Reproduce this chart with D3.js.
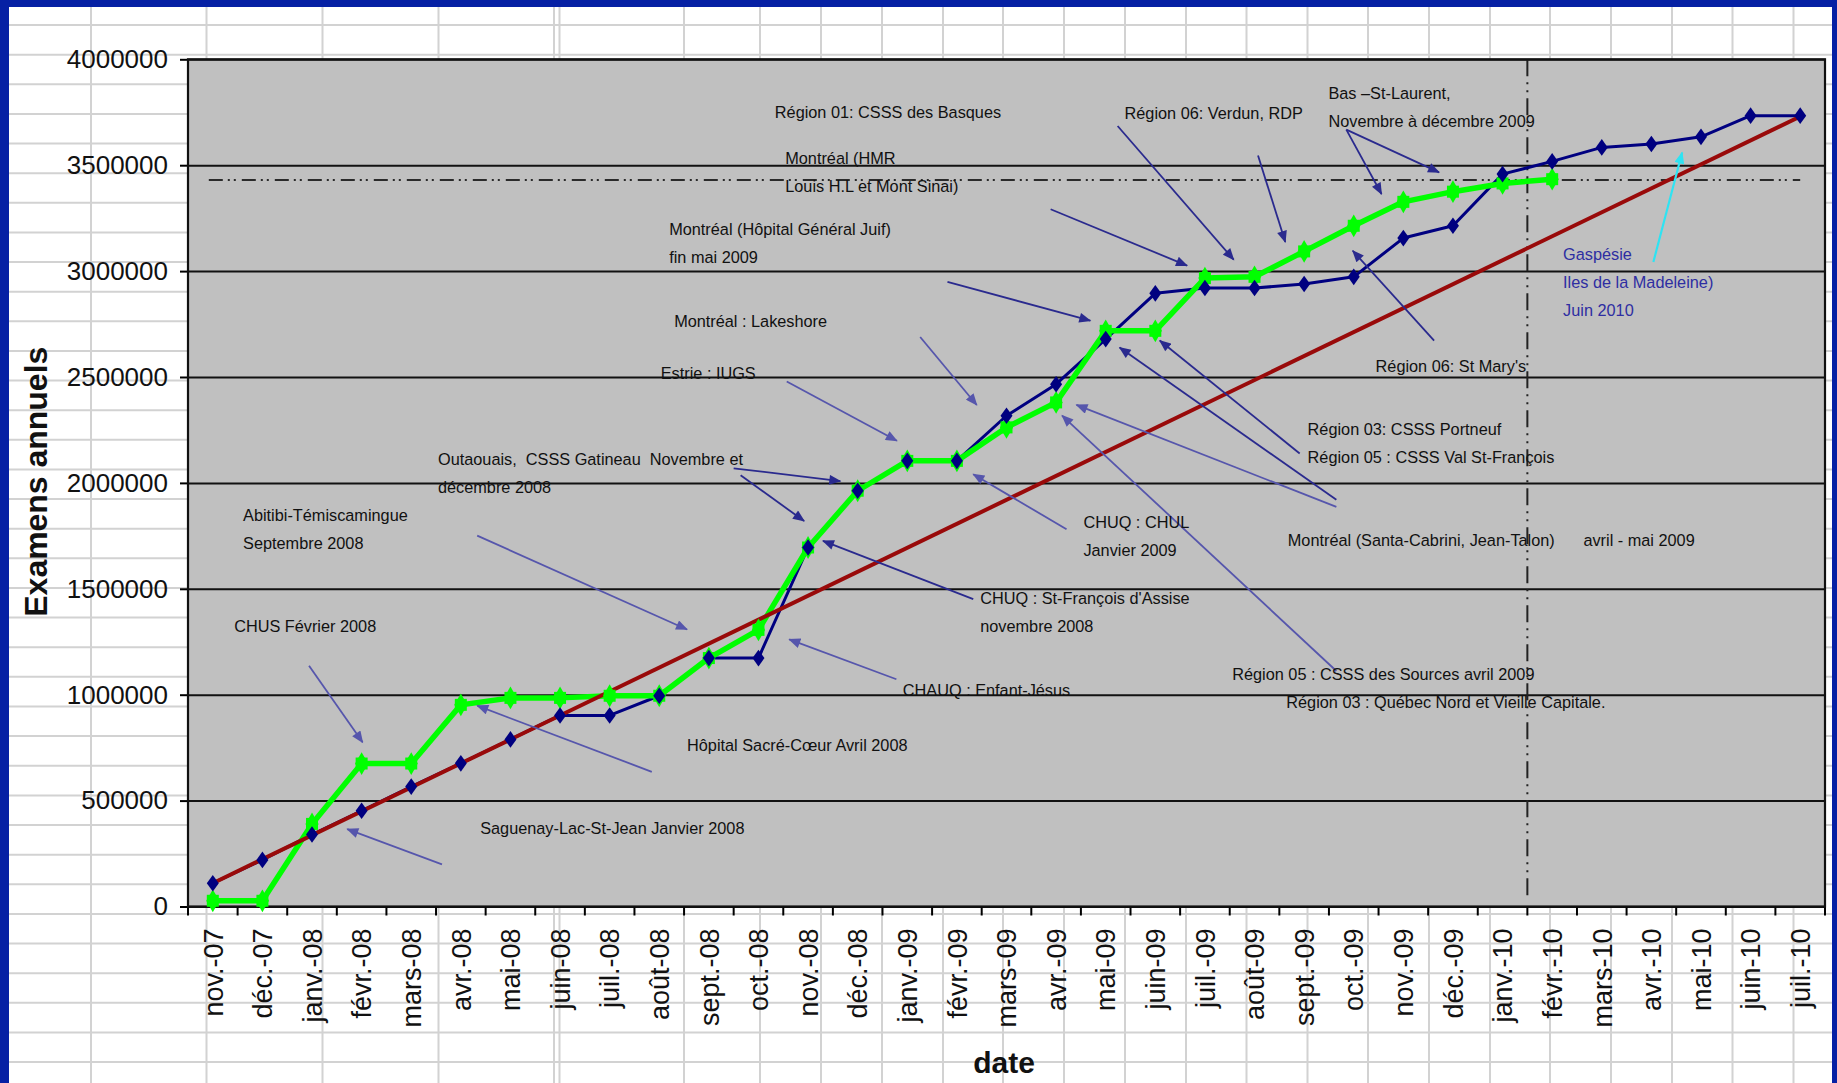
<!DOCTYPE html>
<html>
<head>
<meta charset="utf-8">
<script src="https://cdn.jsdelivr.net/npm/d3@7"></script>
<style>
  html, body { margin: 0; padding: 0; background: #ffffff; }
  svg { display: block; font-family: "Liberation Sans", Arial, sans-serif; }
</style>
</head>
<body>
<svg id="chart" width="1837" height="1083"></svg>
<script>
// ---- data -------------------------------------------------------------
const months = [
  "nov.-07", "déc.-07", "janv.-08", "févr.-08", "mars-08", "avr.-08", "mai-08",
  "juin-08", "juil.-08", "août-08", "sept.-08", "oct.-08", "nov.-08", "déc.-08",
  "janv.-09", "févr.-09", "mars-09", "avr.-09", "mai-09", "juin-09", "juil.-09",
  "août-09", "sept.-09", "oct.-09", "nov.-09", "déc.-09", "janv.-10", "févr.-10",
  "mars-10", "avr.-10", "mai-10", "juin-10", "juil.-10"
];

const yTicks = [0, 500000, 1000000, 1500000, 2000000, 2500000, 3000000, 3500000, 4000000];

// cumulative annual exams, planned deployment (navy)
const plannedExams = [
  110000, 220000, 340000, 452000, 566000, 676000, 789000, 902000, 902000,
  995000, 1173000, 1173000, 1695000, 1963000, 2104000, 2104000, 2317000,
  2466000, 2679000, 2895000, 2920000, 2920000, 2939000, 2973000, 3156000,
  3214000, 3458000, 3518000, 3584000, 3600000, 3634000, 3734000, 3734000
];

// cumulative annual exams, actual deployment (green) — nov.-07 to févr.-10
const actualExams = [
  27000, 27000, 390000, 675000, 675000, 952000, 985000, 985000, 995000,
  995000, 1173000, 1306000, 1695000, 1963000, 2104000, 2104000, 2262000,
  2380000, 2718000, 2718000, 2967000, 2973000, 3093000, 3214000, 3327000,
  3375000, 3414000, 3434000
];

// straight target line (dark red)
const targetMonths = ["nov.-07", "juil.-10"];
const targetExams = [110000, 3730000];

// horizontal reference level and the month where the vertical marker sits
const referenceLevel = 3430000;
const referenceMonths = ["nov.-07", "juil.-10"];
const markerBeforeMonth = "févr.-10";
const markerSpan = [50000, 4000000];

// annotations: anchor = [month index, exams], lines of text
const notes = [
  { at: [11.33, 3750000], lines: ["Région 01: CSSS des Basques"] },
  { at: [18.38, 3745000], lines: ["Région 06: Verdun, RDP"] },
  { at: [22.49, 3840000], lines: ["Bas –St-Laurent,", "Novembre à décembre 2009"] },
  { at: [11.54, 3535000], lines: ["Montréal (HMR", "Louis H.L et Mont Sinai)"] },
  { at: [9.20, 3198000], lines: ["Montréal (Hôpital Général Juif)", "fin mai 2009"] },
  { at: [9.30, 2766000], lines: ["Montréal : Lakeshore"] },
  { at: [9.03, 2517000], lines: ["Estrie : IUGS"] },
  { at: [4.54, 2113000], lines: ["Outaouais,  CSSS Gatineau  Novembre et", "décembre 2008"] },
  { at: [0.61, 1848000], lines: ["Abitibi-Témiscamingue", "Septembre 2008"] },
  { at: [0.43, 1322000], lines: ["CHUS Février 2008"] },
  { at: [9.56, 763000], lines: ["Hôpital Sacré-Cœur Avril 2008"] },
  { at: [5.39, 371000], lines: ["Saguenay-Lac-St-Jean Janvier 2008"] },
  { at: [13.91, 1023000], lines: ["CHAUQ : Enfant-Jésus"] },
  { at: [15.47, 1455000], lines: ["CHUQ : St-François d'Assise", "novembre 2008"] },
  { at: [17.55, 1815000], lines: ["CHUQ : CHUL", "Janvier 2009"] },
  { at: [22.07, 2252000], lines: ["Région 03: CSSS Portneuf", "Région 05 : CSSS Val St-François"] },
  { at: [21.67, 1732000], lines: ["Montréal (Santa-Cabrini, Jean-Talon)"] },
  { at: [27.63, 1732000], lines: ["avril - mai 2009"] },
  { at: [20.55, 1095000], lines: ["Région 05 : CSSS des Sources avril 2009"] },
  { at: [21.64, 963000], lines: ["Région 03 : Québec Nord et Vieille Capitale."] },
  { at: [23.44, 2550000], lines: ["Région 06: St Mary's"] },
  { at: [27.22, 3082000], lines: ["Gaspésie", "Iles de la Madeleine)", "Juin 2010"], tone: "blue" }
];

// pointer arrows: from -> to, in [month index, exams]
const pointers = [
  { from: [18.24, 3685000], to: [20.58, 3054000], tone: "dark" },
  { from: [21.07, 3546000], to: [21.62, 3137000], tone: "dark" },
  { from: [22.85, 3668000], to: [24.72, 3466000], tone: "dark" },
  { from: [22.85, 3668000], to: [23.56, 3364000], tone: "dark" },
  { from: [16.89, 3292000], to: [19.64, 3026000], tone: "dark" },
  { from: [14.81, 2949000], to: [17.69, 2766000], tone: "dark" },
  { from: [14.26, 2689000], to: [15.40, 2368000], tone: "light" },
  { from: [11.57, 2479000], to: [13.79, 2199000], tone: "light" },
  { from: [10.50, 2069000], to: [12.65, 2008000], tone: "dark" },
  { from: [10.64, 2036000], to: [11.92, 1820000], tone: "dark" },
  { from: [5.33, 1751000], to: [9.56, 1308000], tone: "light" },
  { from: [1.94, 1137000], to: [3.02, 775000], tone: "light" },
  { from: [8.85, 636000], to: [5.33, 948000], tone: "light" },
  { from: [4.62, 199000], to: [2.71, 365000], tone: "light" },
  { from: [13.78, 1073000], to: [11.62, 1261000], tone: "light" },
  { from: [15.33, 1451000], to: [12.30, 1726000], tone: "dark" },
  { from: [17.21, 1781000], to: [15.33, 2041000], tone: "light" },
  { from: [21.91, 2139000], to: [19.09, 2672000], tone: "dark" },
  { from: [22.65, 1920000], to: [18.28, 2639000], tone: "dark" },
  { from: [22.65, 1887000], to: [17.41, 2368000], tone: "light" },
  { from: [22.65, 1112000], to: [17.12, 2318000], tone: "light" },
  { from: [24.62, 2672000], to: [22.98, 3096000], tone: "dark" },
  { from: [29.04, 3043000], to: [29.62, 3560000], tone: "cyan" }
];

// ---- layout -------------------------------------------------------------
const W = 1837, H = 1083;
const plot = { left: 188, right: 1825, top: 59.3, bottom: 906.5 };

// spreadsheet cell grid behind the chart
const sheetColumns = [91, 206.5, 322.5, 438.5, 554, 559.5, 684, 760, 821, 882, 943,
  1003, 1064, 1125, 1186, 1246.5, 1307.5, 1368, 1429, 1490, 1550, 1611, 1672, 1732.5, 1793.5];
const sheetRowTop = 25, sheetRowStep = 29.63;

const toneColor = { dark: "#2a2a8e", light: "#5656ac", cyan: "#2fe3f2", blue: "#2e2ea2" };

const svg = d3.select("#chart");

// background sheet
svg.append("rect").attr("width", W).attr("height", H).attr("fill", "#ffffff");
const sheet = svg.append("g").attr("stroke", "#d2d2d2").attr("stroke-width", 2);
for (let yy = sheetRowTop; yy < H; yy += sheetRowStep) {
  sheet.append("line").attr("x1", 0).attr("x2", W).attr("y1", yy).attr("y2", yy);
}
sheetColumns.forEach(cx => {
  sheet.append("line").attr("x1", cx).attr("x2", cx).attr("y1", 0).attr("y2", H);
});

// slide frame
svg.append("rect").attr("x", 0).attr("y", 0).attr("width", W).attr("height", 7).attr("fill", "#0620a4");
svg.append("rect").attr("x", 0).attr("y", 0).attr("width", 9).attr("height", H).attr("fill", "#0620a4");
svg.append("rect").attr("x", 1832).attr("y", 0).attr("width", 5).attr("height", H).attr("fill", "#0620a4");

// scales
const x = d3.scaleBand().domain(months).range([plot.left, plot.right]).padding(0);
const bw = x.bandwidth();
const cx = m => x(m) + bw / 2;
const fx = i => plot.left + (i + 0.5) * bw;   // fractional month index
const y = d3.scaleLinear().domain([0, 4000000]).range([plot.bottom, plot.top]);

// plot area
svg.append("rect")
  .attr("x", plot.left).attr("y", plot.top)
  .attr("width", plot.right - plot.left).attr("height", plot.bottom - plot.top)
  .attr("fill", "#c0c0c0");

// horizontal gridlines
const grid = svg.append("g")
  .attr("transform", `translate(${plot.left},0)`)
  .call(d3.axisLeft(y).tickValues(yTicks).tickSize(-(plot.right - plot.left)).tickFormat(""));
grid.select(".domain").remove();
grid.selectAll("line").attr("stroke", "#111").attr("stroke-width", 2);

// reference level (dash-dot-dot)
svg.append("line")
  .attr("x1", cx(referenceMonths[0]) - 4).attr("x2", cx(referenceMonths[1]))
  .attr("y1", y(referenceLevel)).attr("y2", y(referenceLevel))
  .attr("stroke", "#2a2a2a").attr("stroke-width", 2)
  .attr("stroke-dasharray", "14,5,2,4,2,6");

// vertical marker between janv.-10 and févr.-10
svg.append("line")
  .attr("x1", x(markerBeforeMonth)).attr("x2", x(markerBeforeMonth))
  .attr("y1", y(markerSpan[1])).attr("y2", y(markerSpan[0]))
  .attr("stroke", "#222").attr("stroke-width", 2)
  .attr("stroke-dasharray", "17,6,2,6,2,6");

// y axis
const yAxis = svg.append("g")
  .attr("transform", `translate(${plot.left},0)`)
  .call(d3.axisLeft(y).tickValues(yTicks).tickSize(8).tickPadding(12).tickFormat(d3.format("d")));
yAxis.select(".domain").remove();
yAxis.selectAll("line").attr("stroke", "#000").attr("stroke-width", 2);
yAxis.selectAll("text").attr("font-size", 26).attr("fill", "#111")
  .attr("font-family", "'Liberation Sans', Arial, sans-serif");

// x axis: ticks on band boundaries, labels rotated
const xTickPos = months.map(m => x(m)).concat([plot.right]);
svg.append("g").selectAll("line").data(xTickPos).join("line")
  .attr("x1", d => d).attr("x2", d => d)
  .attr("y1", plot.bottom).attr("y2", plot.bottom + 9)
  .attr("stroke", "#000").attr("stroke-width", 2);
const xAxis = svg.append("g")
  .attr("transform", `translate(0,${plot.bottom})`)
  .call(d3.axisBottom(x).tickSize(0).tickPadding(0));
xAxis.select(".domain").remove();
xAxis.selectAll("text")
  .attr("font-size", 27).attr("fill", "#111")
  .attr("font-family", "'Liberation Sans', Arial, sans-serif")
  .attr("text-anchor", "end")
  .attr("transform", "translate(0,22) rotate(-90)")
  .attr("x", 0).attr("y", 0).attr("dy", "0.36em");

// plot border
svg.append("rect")
  .attr("x", plot.left).attr("y", plot.top)
  .attr("width", plot.right - plot.left).attr("height", plot.bottom - plot.top)
  .attr("fill", "none").attr("stroke", "#111").attr("stroke-width", 2.2);

// axis titles
svg.append("text")
  .attr("transform", `translate(46.5,${(346.7 + 616.7) / 2}) rotate(-90)`)
  .attr("text-anchor", "middle")
  .attr("font-size", 31).attr("font-weight", "bold").attr("fill", "#111")
  .attr("textLength", 270).attr("lengthAdjust", "spacingAndGlyphs")
  .text("Examens annuels");
svg.append("text")
  .attr("x", 1004).attr("y", 1073)
  .attr("text-anchor", "middle")
  .attr("font-size", 30).attr("font-weight", "bold").attr("fill", "#111")
  .text("date");

// arrowhead markers
const defs = svg.append("defs");
Object.entries(toneColor).forEach(([k, c]) => {
  defs.append("marker")
    .attr("id", "head-" + k)
    .attr("markerUnits", "userSpaceOnUse")
    .attr("viewBox", "0 0 12 10")
    .attr("refX", 11).attr("refY", 5)
    .attr("markerWidth", 13).attr("markerHeight", 10)
    .attr("orient", "auto")
    .append("path").attr("d", "M0,0 L12,5 L0,10 Z").attr("fill", c);
});

// series lines
const lineGen = d3.line().x(d => d[0]).y(d => d[1]);

svg.append("path")
  .datum(plannedExams.map((v, i) => [cx(months[i]), y(v)]))
  .attr("d", lineGen).attr("fill", "none")
  .attr("stroke", "#000080").attr("stroke-width", 3).attr("stroke-linejoin", "round");

svg.append("path")
  .datum(actualExams.map((v, i) => [cx(months[i]), y(v)]))
  .attr("d", lineGen).attr("fill", "none")
  .attr("stroke", "#00ff00").attr("stroke-width", 5.5).attr("stroke-linejoin", "round");

svg.append("path")
  .datum(targetExams.map((v, i) => [cx(targetMonths[i]), y(v)]))
  .attr("d", lineGen).attr("fill", "none")
  .attr("stroke", "#990a0a").attr("stroke-width", 4);

// markers
const greenG = svg.append("g").attr("fill", "#00ff00");
actualExams.forEach((v, i) => {
  const px = cx(months[i]), py = y(v);
  greenG.append("rect").attr("x", px - 6).attr("y", py - 6).attr("width", 12).attr("height", 12);
  greenG.append("path").attr("d", d3.symbol(d3.symbolDiamond, 150)()).attr("transform", `translate(${px},${py})`);
});
const navyG = svg.append("g").attr("fill", "#000080");
plannedExams.forEach((v, i) => {
  navyG.append("path")
    .attr("d", d3.symbol(d3.symbolDiamond, 80)())
    .attr("transform", `translate(${cx(months[i])},${y(v)}) scale(1.25,1)`);
});

// annotation pointers
svg.append("g").selectAll("line").data(pointers).join("line")
  .attr("x1", d => fx(d.from[0])).attr("y1", d => y(d.from[1]))
  .attr("x2", d => fx(d.to[0])).attr("y2", d => y(d.to[1]))
  .attr("stroke", d => toneColor[d.tone])
  .attr("stroke-width", d => d.tone === "cyan" ? 2.2 : 1.8)
  .attr("marker-end", d => `url(#head-${d.tone})`);

// annotation texts
const noteG = svg.append("g").attr("font-size", 16.3);
notes.forEach(n => {
  const t = noteG.append("text")
    .attr("x", fx(n.at[0])).attr("y", y(n.at[1]))
    .attr("fill", n.tone ? toneColor[n.tone] : "#111")
    .attr("xml:space", "preserve");
  n.lines.forEach((line, k) => {
    t.append("tspan")
      .attr("x", fx(n.at[0]))
      .attr("dy", k === 0 ? "0.36em" : 28)
      .text(line);
  });
});
</script>
</body>
</html>
